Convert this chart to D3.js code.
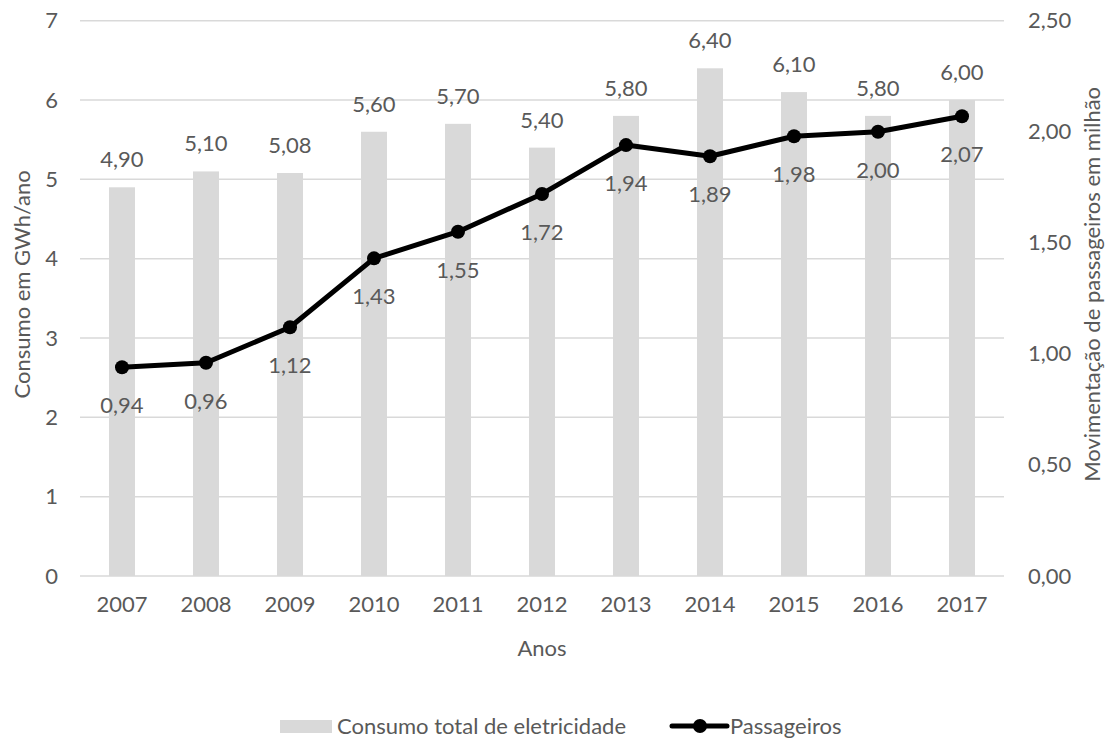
<!DOCTYPE html>
<html>
<head>
<meta charset="utf-8">
<script src="https://cdn.jsdelivr.net/npm/d3@7"></script>
<style>
  body { margin: 0; background: #fff; }
  text { font-family: Lato, "Open Sans", sans-serif; fill: #595959; }
</style>
</head>
<body>
<script>
const anos = ['2007', '2008', '2009', '2010', '2011', '2012', '2013', '2014', '2015', '2016', '2017'];
const consumo = [4.90, 5.10, 5.08, 5.60, 5.70, 5.40, 5.80, 6.40, 6.10, 5.80, 6.00];
const passageiros = [0.94, 0.96, 1.12, 1.43, 1.55, 1.72, 1.94, 1.89, 1.98, 2.00, 2.07];
const ticksEsq = [0, 1, 2, 3, 4, 5, 6, 7];
const ticksDir = [0, 0.5, 1, 1.5, 2, 2.5];

const width = 1109;
const height = 738;
const mLeft = 80, mRight = 1004, mTop = 20.7, mBottom = 576;
const fs = 22;

const pt = d3.formatLocale({decimal: ',', thousands: '.', grouping: [3], currency: ['R$', '']});
const fmt = pt.format('.2f');

const svg = d3.select('body')
    .append('svg')
    .attr('width', width)
    .attr('height', height)

const x = d3.scaleBand()
    .domain(anos)
    .range([mLeft, mRight])
    .paddingInner(0.69)
    .paddingOuter(0.345)
const xc = d => x(d) + x.bandwidth() / 2

const y = d3.scaleLinear()
    .domain([0, 7])
    .range([mBottom, mTop])
const y2 = d3.scaleLinear()
    .domain([0, 2.5])
    .range([mBottom, mTop])

// gridlines (primary axis only)
svg.append('g')
    .selectAll('line')
    .data(ticksEsq)
    .enter()
    .append('line')
    .attr('x1', mLeft)
    .attr('x2', mRight)
    .attr('y1', d => y(d))
    .attr('y2', d => y(d))
    .attr('stroke', '#d9d9d9')
    .attr('stroke-width', 1.5)

// left axis
const axL = svg.append('g')
    .attr('transform', `translate(${mLeft - 22},0)`)
    .call(d3.axisLeft(y).tickValues(ticksEsq).tickSize(0).tickPadding(0).tickFormat(d3.format('d')))
axL.select('.domain').remove()
axL.selectAll('text').style('font-size', fs + 'px')

// right axis
const axR = svg.append('g')
    .attr('transform', `translate(${mRight + 24},0)`)
    .call(d3.axisRight(y2).tickValues(ticksDir).tickSize(0).tickPadding(0).tickFormat(d => fmt(d)))
axR.select('.domain').remove()
axR.selectAll('text').style('font-size', fs + 'px')

// bottom axis
const axB = svg.append('g')
    .attr('transform', `translate(0,${mBottom + 12})`)
    .call(d3.axisBottom(x).tickSize(0).tickPadding(8))
axB.select('.domain').remove()
axB.selectAll('text').style('font-size', fs + 'px')

// bars
svg.append('g')
    .selectAll('rect')
    .data(consumo)
    .enter()
    .append('rect')
    .attr('x', (d, i) => x(anos[i]))
    .attr('width', x.bandwidth())
    .attr('y', d => y(d))
    .attr('height', d => y(0) - y(d))
    .attr('fill', '#d9d9d9')

svg.append('g')
    .selectAll('text')
    .data(consumo)
    .enter()
    .append('text')
    .attr('x', (d, i) => xc(anos[i]))
    .attr('y', d => y(d) - 20)
    .attr('text-anchor', 'middle')
    .style('font-size', fs + 'px')
    .text(d => fmt(d))

// line
const line = d3.line()
    .x((d, i) => xc(anos[i]))
    .y(d => y2(d))

svg.append('path')
    .datum(passageiros)
    .attr('d', line)
    .attr('fill', 'none')
    .attr('stroke', '#000')
    .attr('stroke-width', 5)
    .attr('stroke-linejoin', 'round')

svg.append('g')
    .selectAll('circle')
    .data(passageiros)
    .enter()
    .append('circle')
    .attr('cx', (d, i) => xc(anos[i]))
    .attr('cy', d => y2(d))
    .attr('r', 7)
    .attr('fill', '#000')

svg.append('g')
    .selectAll('text')
    .data(passageiros)
    .enter()
    .append('text')
    .attr('x', (d, i) => xc(anos[i]))
    .attr('y', d => y2(d) + 46)
    .attr('text-anchor', 'middle')
    .style('font-size', fs + 'px')
    .text(d => fmt(d))

// axis titles
svg.append('text')
    .attr('transform', `translate(30,${(mTop + mBottom) / 2 - 14}) rotate(-90)`)
    .attr('text-anchor', 'middle')
    .style('font-size', fs + 'px')
    .text('Consumo em GWh/ano')

svg.append('text')
    .attr('transform', `translate(1100,${(mTop + mBottom) / 2 - 14}) rotate(-90)`)
    .attr('text-anchor', 'middle')
    .style('font-size', fs + 'px')
    .text('Movimentação de passageiros em milhão')

svg.append('text')
    .attr('x', (mLeft + mRight) / 2)
    .attr('y', 656)
    .attr('text-anchor', 'middle')
    .style('font-size', fs + 'px')
    .text('Anos')

// legend
const lg = svg.append('g')
lg.append('rect')
    .attr('x', 280)
    .attr('y', 720)
    .attr('width', 52)
    .attr('height', 13)
    .attr('fill', '#d9d9d9')
lg.append('text')
    .attr('x', 337)
    .attr('y', 734)
    .style('font-size', fs + 'px')
    .text('Consumo total de eletricidade')
lg.append('line')
    .attr('x1', 672)
    .attr('x2', 727)
    .attr('y1', 726)
    .attr('y2', 726)
    .attr('stroke', '#000')
    .attr('stroke-width', 5)
    .attr('stroke-linecap', 'round')
lg.append('circle')
    .attr('cx', 700)
    .attr('cy', 726)
    .attr('r', 7)
    .attr('fill', '#000')
lg.append('text')
    .attr('x', 730)
    .attr('y', 734)
    .style('font-size', fs + 'px')
    .text('Passageiros')
</script>
</body>
</html>
